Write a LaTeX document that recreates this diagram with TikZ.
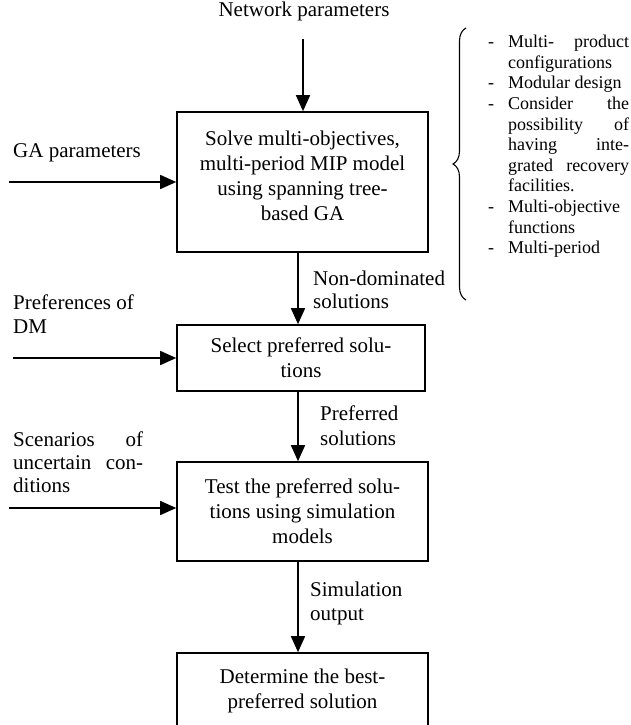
\documentclass[tikz,border=0pt]{standalone}
\usepackage{fontspec}
\setmainfont{Liberation Serif}
\usetikzlibrary{arrows.meta,decorations.pathreplacing}
\tikzset{
  mainfont/.style={font=\fontsize{21}{25}\selectfont},
  box/.style={draw, line width=1.6pt, inner sep=0pt, align=center, mainfont},
  lbl/.style={inner sep=0pt, anchor=base west, mainfont},
  arr/.style={line width=1.6pt, -{Triangle[length=16pt,width=14pt]}},
  bracestyle/.style={line width=1.1pt, decorate, decoration={brace, amplitude=13pt}},
}
\begin{document}
\begin{tikzpicture}[x=1pt,y=-1pt]
\useasboundingbox (0,0) rectangle (631,725);
\clip (0,0) rectangle (631,725);

% boxes
\node[box, minimum width=251pt, minimum height=140pt] (b1) at (302.5,182) {};
\node[inner sep=0pt, align=center, mainfont] (b1t) at (302.5,175.5)
  {Solve multi-objectives,\\multi-period MIP model\\using spanning tree-\\based GA};
\node[box, minimum width=248pt, minimum height=66pt] (b2) at (301,358)
  {Select preferred solu-\\tions};
\node[box, minimum width=251pt, minimum height=99pt] (b3) at (302.5,511.5)
  {Test the preferred solu-\\tions using simulation\\models};
\node[box, minimum width=251pt, minimum height=76pt] (b4) at (302.5,691)
  {Determine the best-\\preferred solution};

% top input
\node[inner sep=0pt, anchor=base, mainfont] (net) at (304,17) {Network parameters};
\coordinate (ax) at (298,0);
\coordinate (nx) at (303,0);
\draw[arr] (nx |- 0,39) coordinate (n0) -- (b1.north -| nx);

% main flow
\draw[arr] (b1.south -| ax) -- (b2.north -| ax);
\draw[arr] (b2.south -| ax) -- (b3.north -| ax);
\draw[arr] (b3.south -| ax) -- (b4.north -| ax);

% left inputs
\node[lbl] (ga) at (13,157) {GA parameters};
\coordinate (ga0) at (9,182);
\draw[arr] (ga0) -- (ga0 -| b1.west);

\node[lbl] (pref) at (13,309.3) {\renewcommand{\arraystretch}{1}\fontsize{21}{24}\selectfont
  \begin{tabular}[t]{@{}l@{}}Preferences of\\DM\end{tabular}};
\coordinate (pr0) at (13,358);
\draw[arr] (pr0) -- (pr0 -| b2.west);

\node[lbl] (scen) at (13,446.7) {\renewcommand{\arraystretch}{1}\fontsize{21}{23}\selectfont
  \begin{tabular}[t]{@{}l@{}}\makebox[130pt][s]{Scenarios of}\\\makebox[130pt][s]{uncertain con-}\\ditions\end{tabular}};
\coordinate (sc0) at (9,508);
\draw[arr] (sc0) -- (sc0 -| b3.west);

% flow labels
\node[lbl] (nd) at (313,285) {\renewcommand{\arraystretch}{1}\fontsize{21}{23}\selectfont
  \begin{tabular}[t]{@{}l@{}}Non-dominated\\solutions\end{tabular}};
\node[lbl] (ps) at (320,420) {\renewcommand{\arraystretch}{1}\fontsize{21}{25}\selectfont
  \begin{tabular}[t]{@{}l@{}}Preferred\\solutions\end{tabular}};
\node[lbl] (so) at (310,596.7) {\renewcommand{\arraystretch}{1}\fontsize{21}{24}\selectfont
  \begin{tabular}[t]{@{}l@{}}Simulation\\output\end{tabular}};

% brace and list
\draw[bracestyle] (466,300) -- (466,28);
\node[inner sep=0pt, anchor=base west] (list) at (488,47.7) {\renewcommand{\arraystretch}{1}\fontsize{18}{20.6}\selectfont
  \begin{tabular}[t]{@{}l@{}}
  \makebox[20pt][l]{-}\makebox[121pt][s]{Multi- product}\\
  \makebox[20pt][l]{}configurations\\
  \makebox[20pt][l]{-}Modular design\\
  \makebox[20pt][l]{-}\makebox[121pt][s]{Consider the}\\
  \makebox[20pt][l]{}\makebox[121pt][s]{possibility of}\\
  \makebox[20pt][l]{}\makebox[121pt][s]{having inte-}\\
  \makebox[20pt][l]{}\makebox[121pt][s]{grated recovery}\\
  \makebox[20pt][l]{}facilities.\\
  \makebox[20pt][l]{-}Multi-objective\\
  \makebox[20pt][l]{}functions\\
  \makebox[20pt][l]{-}Multi-period
  \end{tabular}};
\end{tikzpicture}
\end{document}
